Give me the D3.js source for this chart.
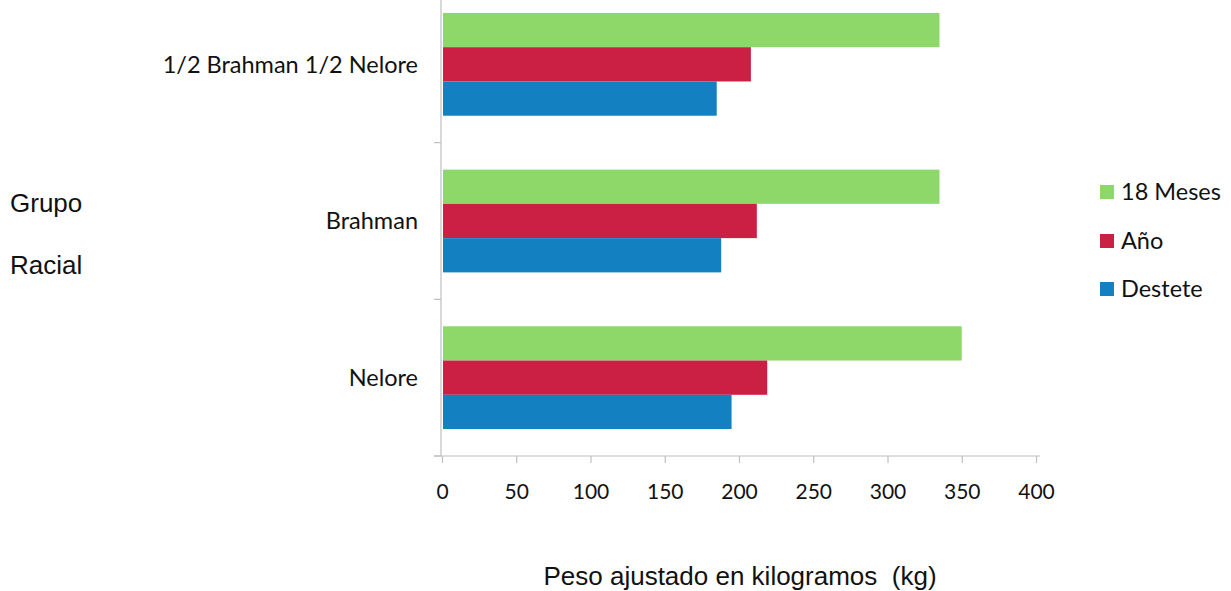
<!DOCTYPE html>
<html><head><meta charset="utf-8">
<script src="https://cdn.jsdelivr.net/npm/d3@7"></script>
<style>body{margin:0;background:#fff}svg{display:block}</style>
</head><body>
<svg id="c" width="1231" height="591"></svg>
<script>
const categories = ["1/2 Brahman 1/2 Nelore", "Brahman", "Nelore"];
const seriesNames = ["18 Meses", "Año", "Destete"];
const meses18 = [335, 335, 350];
const anio = [208, 212, 219];
const destete = [185, 188, 195];
const xTicks = [0, 50, 100, 150, 200, 250, 300, 350, 400];
const colors = ["#8ed86a", "#cc1f44", "#1380c1"];
const seriesValues = [meses18, anio, destete];

const svg = d3.select("#c");
const x = d3.scaleLinear().domain([0, 400]).range([442, 1036]);
const y = d3.scaleBand().domain(categories).range([-14, 456]).paddingInner(0.344).paddingOuter(0.172);
const ySub = d3.scaleBand().domain(seriesNames).range([0, y.bandwidth()]);

const axisColor = "#bfbfbf";
const lblFont = "Lato, 'Open Sans', sans-serif";
const arialFont = "'Liberation Sans', Arial, sans-serif";
// vertical axis
svg.append("line").attr("x1", 441).attr("x2", 441).attr("y1", 0).attr("y2", 456)
  .attr("stroke", axisColor).attr("stroke-width", 1.2);
const bounds = [y.range()[0] + y.step()*1, y.range()[0] + y.step()*2, 456];
svg.selectAll(".ytick").data(bounds).enter().append("line")
  .attr("x1", 434).attr("x2", 441).attr("y1", d => d).attr("y2", d => d)
  .attr("stroke", axisColor).attr("stroke-width", 1.2);

// x axis
const xAxis = d3.axisBottom(x).tickValues(xTicks).tickSize(7).tickPadding(21);
const gx = svg.append("g").attr("transform", "translate(0,456)").call(xAxis);
gx.select(".domain").attr("stroke", axisColor).attr("stroke-width", 1.2).attr("d", "M434,0H1040");
gx.selectAll(".tick line").attr("stroke", axisColor).attr("stroke-width", 1.2);
gx.selectAll(".tick text").attr("fill", "#111").attr("font-family", lblFont)
  .attr("font-size", 21);

// bars
categories.forEach((cat, ci) => {
  seriesNames.forEach((s, si) => {
    svg.append("rect")
      .attr("x", x(0) + 1)
      .attr("y", y(cat) + ySub(s))
      .attr("width", x(seriesValues[si][ci]) - x(0) - 1)
      .attr("height", ySub.bandwidth())
      .attr("fill", colors[si]);
  });
});

// category labels
svg.selectAll(".cat").data(categories).enter().append("text")
  .attr("x", 418).attr("y", d => y(d) + y.bandwidth()/2)
  .attr("dy", "0.35em").attr("text-anchor", "end")
  .attr("font-family", lblFont).attr("font-size", 23.5).attr("fill", "#111")
  .text(d => d);

// y title
svg.append("text").attr("x", 10).attr("y", 212).attr("font-family", arialFont)
  .attr("font-size", 26).attr("fill", "#111").text("Grupo");
svg.append("text").attr("x", 10).attr("y", 274).attr("font-family", arialFont)
  .attr("font-size", 26).attr("fill", "#111").text("Racial");

// x title
svg.append("text").attr("x", 740).attr("y", 585).attr("text-anchor", "middle")
  .attr("font-family", arialFont).attr("font-size", 26).attr("fill", "#111")
  .style("white-space", "pre")
  .text("Peso ajustado en kilogramos  (kg)");

// legend
const legendY = [192, 241, 289];
seriesNames.forEach((s, i) => {
  svg.append("rect").attr("x", 1100).attr("y", legendY[i] - 7).attr("width", 14).attr("height", 14)
    .attr("fill", colors[i]);
  svg.append("text").attr("x", 1121).attr("y", legendY[i]).attr("dy", "0.35em")
    .attr("font-family", lblFont).attr("font-size", 23.5).attr("fill", "#111").text(s);
});
</script>
</body></html>
